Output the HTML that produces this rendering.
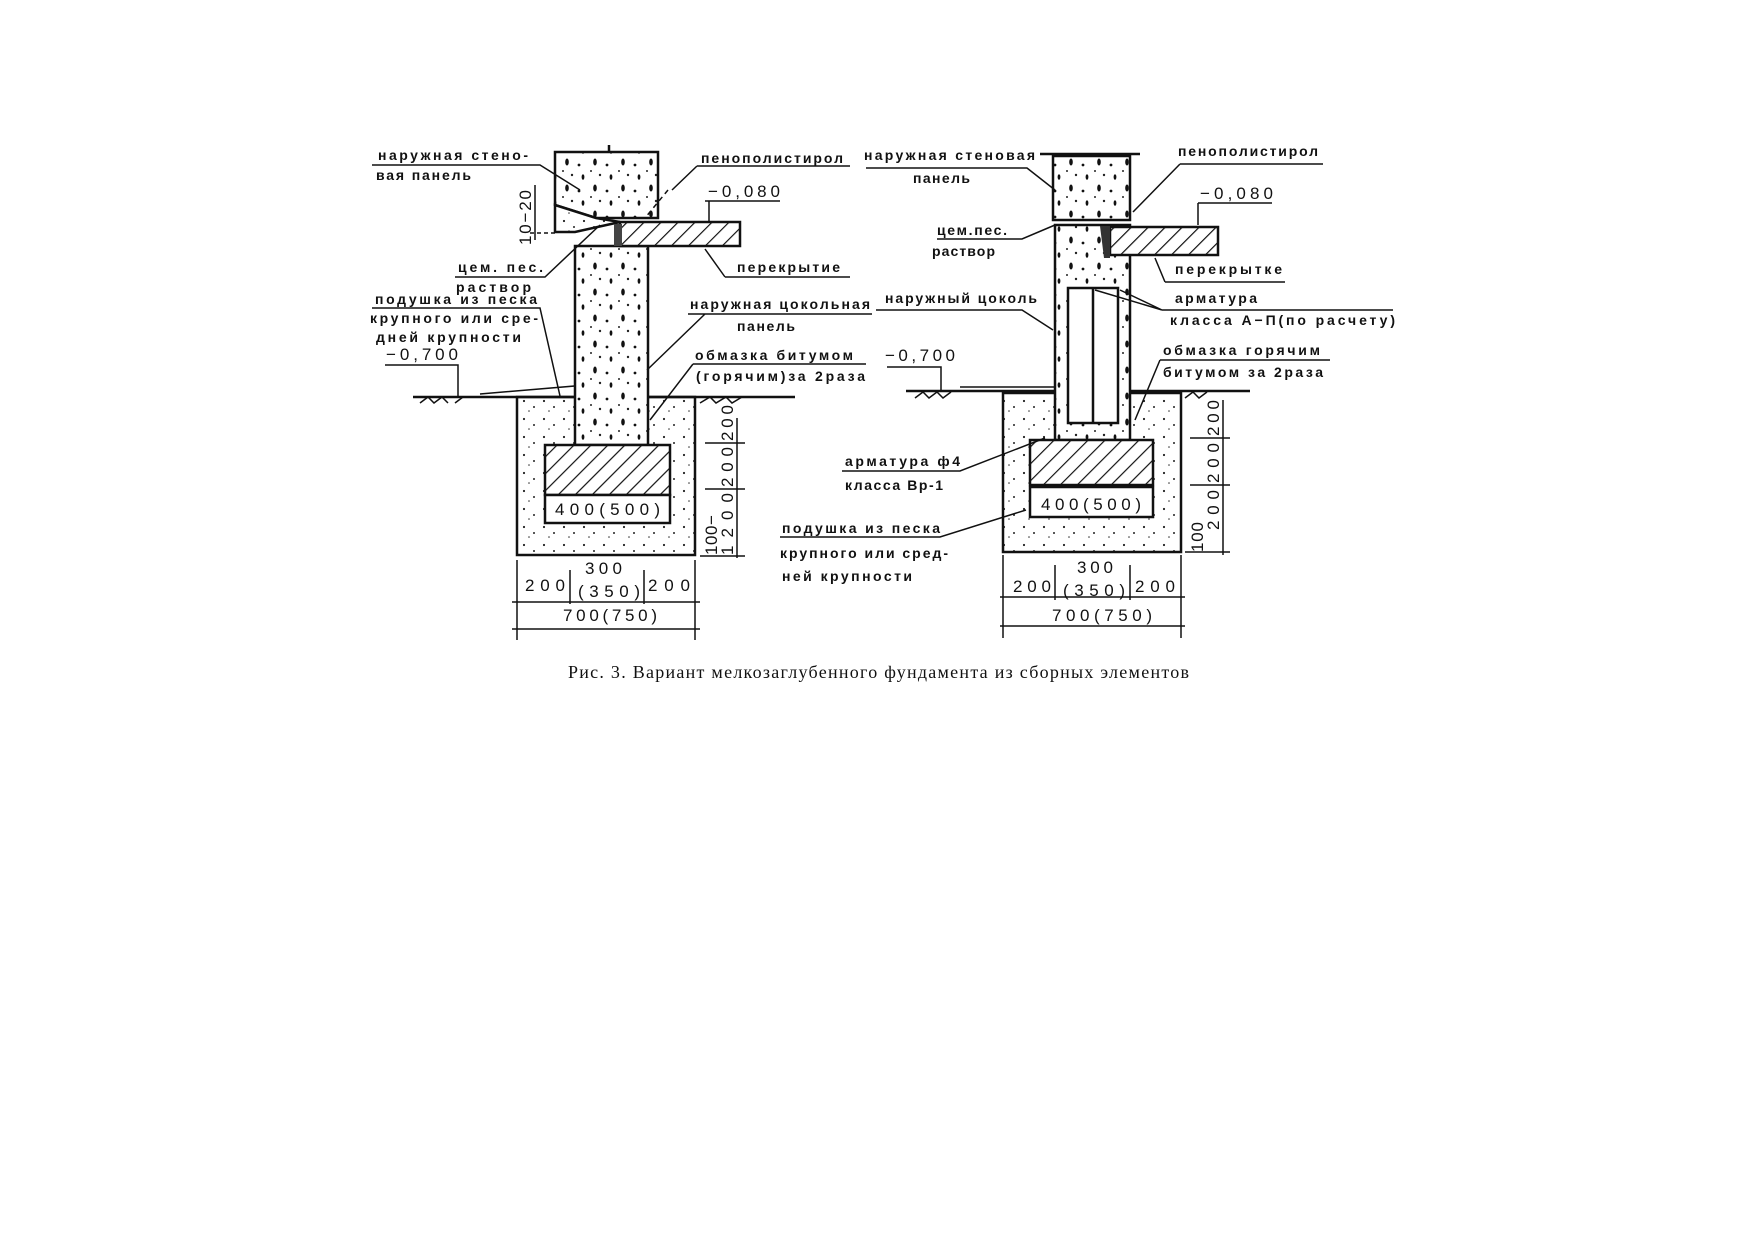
<!DOCTYPE html>
<html><head><meta charset="utf-8"><style>
html,body{margin:0;padding:0;background:#fff}
svg{display:block}
.l{font-family:"Liberation Sans",sans-serif;font-size:14px;font-weight:bold;fill:#111}
.d{font-family:"Liberation Sans",sans-serif;font-size:17px;fill:#111}
</style></head><body>
<svg width="1755" height="1240" viewBox="0 0 1755 1240" xmlns="http://www.w3.org/2000/svg">
<defs>
<pattern id="h" width="12" height="12" patternUnits="userSpaceOnUse" patternTransform="rotate(45)">
<rect width="12" height="12" fill="#fff"/><line x1="0" y1="0" x2="0" y2="12" stroke="#111" stroke-width="2.4"/></pattern>
<pattern id="dots" width="20" height="18" patternUnits="userSpaceOnUse">
<rect width="20" height="18" fill="#fff"/><circle cx="4" cy="5" r="1.1" fill="#222"/><circle cx="14" cy="11" r="1" fill="#222"/><circle cx="9" cy="15" r="0.8" fill="#333"/></pattern>
<pattern id="conc" width="28" height="26" patternUnits="userSpaceOnUse">
<rect width="28" height="26" fill="#fff"/><ellipse cx="7" cy="6" rx="1.8" ry="3.5" fill="#111"/><circle cx="19" cy="9" r="1.4" fill="#111"/><circle cx="12" cy="19" r="1.2" fill="#222"/><ellipse cx="23" cy="21" rx="1.4" ry="2.8" fill="#111"/><circle cx="3" cy="15" r="1" fill="#222"/></pattern>
</defs>
<g stroke="#111" stroke-width="2.5" fill="none">
<!-- LEFT -->
<rect x="517" y="397" width="178" height="158" fill="url(#dots)"/>
<line x1="413" y1="397" x2="795" y2="397"/>
<path d="M420 403 l8 -6 l6 6 l8 -6 l6 6 M455 403 l8 -6 M700 403 l10 -6 l6 6 l10 -6 l6 6 l10-6" stroke-width="1.5"/>
<path d="M480 394 L575 386 L575 394" stroke-width="1.5"/>
<rect x="575" y="246" width="73" height="199" fill="url(#conc)"/>
<path d="M555 152 H658 V218 H596 L555 205 Z" fill="url(#conc)"/>
<path d="M555 205 L596 218 L620 222 L575 232 L555 232 Z" fill="url(#dots)"/>
<rect x="620" y="222" width="120" height="24" fill="url(#h)"/>
<rect x="614" y="224" width="8" height="22" fill="#444" stroke="none"/>
<rect x="545" y="445" width="125" height="50" fill="url(#h)"/>
<rect x="545" y="495" width="125" height="28" fill="#fff"/>
<line x1="609" y1="145" x2="609" y2="152"/>
<line x1="668" y1="190" x2="645" y2="218" stroke-dasharray="5 4" stroke-width="1.5"/>
<line x1="517" y1="560" x2="517" y2="640" stroke-width="1.5"/><line x1="695" y1="560" x2="695" y2="640" stroke-width="1.5"/>
<line x1="570" y1="570" x2="570" y2="604" stroke-width="1.5"/><line x1="644" y1="570" x2="644" y2="604" stroke-width="1.5"/>
<line x1="512" y1="602" x2="700" y2="602" stroke-width="1.5"/><line x1="512" y1="629" x2="700" y2="629" stroke-width="1.5"/>
<line x1="737" y1="418" x2="737" y2="558" stroke-width="1.5"/>
<line x1="705" y1="443" x2="745" y2="443" stroke-width="1.5"/><line x1="705" y1="489" x2="745" y2="489" stroke-width="1.5"/><line x1="700" y1="556" x2="745" y2="556" stroke-width="1.5"/>
<line x1="535" y1="185" x2="535" y2="240" stroke-width="1.5"/>
<line x1="530" y1="233" x2="555" y2="233" stroke-width="1.5" stroke-dasharray="4 3"/>
<path d="M372 165 H540 L580 190" stroke-width="1.5"/>
<path d="M697 166 H850 M697 166 L672 190" stroke-width="1.5"/>
<path d="M705 201 H780 M709 201 V222" stroke-width="1.5"/>
<path d="M455 277 H545 L600 225" stroke-width="1.5"/>
<path d="M372 308 H540 L560 396" stroke-width="1.5"/>
<path d="M385 365 H458 V396" stroke-width="1.5"/>
<path d="M725 277 H850 M725 277 L705 249" stroke-width="1.5"/>
<path d="M688 314 H872 M705 314 L647 370" stroke-width="1.5"/>
<path d="M693 364 H866 M693 364 L650 420" stroke-width="1.5"/>

<!-- RIGHT -->
<rect x="1003" y="393" width="178" height="159" fill="url(#dots)"/>
<line x1="906" y1="391" x2="1250" y2="391"/>
<path d="M915 398 l8 -6 l6 6 l8-6 l6 6 l8-6 M1185 398 l8-6 l6 6 l8-6" stroke-width="1.5"/>
<path d="M960 387 H1055" stroke-width="1.5"/>
<rect x="1055" y="225" width="75" height="215" fill="url(#conc)"/>
<rect x="1053" y="156" width="77" height="64" fill="url(#conc)"/>
<line x1="1040" y1="154" x2="1140" y2="154"/>
<rect x="1068" y="288" width="50" height="135" fill="#fff"/>
<line x1="1093" y1="288" x2="1093" y2="423"/>
<rect x="1110" y="227" width="108" height="28" fill="url(#h)"/>
<path d="M1100 226 L1110 226 L1110 258 L1104 258 Z" fill="#333" stroke="none"/>
<rect x="1030" y="440" width="123" height="45" fill="url(#h)"/>
<rect x="1030" y="487" width="123" height="30" fill="#fff"/>
<line x1="1003" y1="555" x2="1003" y2="638" stroke-width="1.5"/><line x1="1181" y1="555" x2="1181" y2="638" stroke-width="1.5"/>
<line x1="1055" y1="565" x2="1055" y2="600" stroke-width="1.5"/><line x1="1130" y1="565" x2="1130" y2="600" stroke-width="1.5"/>
<line x1="1000" y1="597" x2="1185" y2="597" stroke-width="1.5"/><line x1="1000" y1="626" x2="1185" y2="626" stroke-width="1.5"/>
<line x1="1181" y1="393" x2="1181" y2="552" stroke-width="1.5"/>
<line x1="1223" y1="400" x2="1223" y2="555" stroke-width="1.5"/>
<line x1="1190" y1="438" x2="1230" y2="438" stroke-width="1.5"/><line x1="1190" y1="485" x2="1230" y2="485" stroke-width="1.5"/><line x1="1185" y1="552" x2="1230" y2="552" stroke-width="1.5"/>
<path d="M866 168 H1027 L1055 190" stroke-width="1.5"/>
<path d="M1180 164 H1323 M1180 164 L1133 212" stroke-width="1.5"/>
<path d="M1198 203 H1272 M1198 203 V225" stroke-width="1.5"/>
<path d="M937 239 H1022 L1055 225" stroke-width="1.5"/>
<path d="M1165 282 H1285 M1165 282 L1155 258" stroke-width="1.5"/>
<path d="M1162 310 H1393 M1162 310 L1095 290 M1162 310 L1120 290" stroke-width="1.5"/>
<path d="M876 310 H1022 L1053 330" stroke-width="1.5"/>
<path d="M1160 360 H1330 M1160 360 L1135 420" stroke-width="1.5"/>
<path d="M887 367 H941 V390" stroke-width="1.5"/>
<path d="M842 471 H960 L1045 438" stroke-width="1.5"/>
<path d="M780 537 H940 L1026 510" stroke-width="1.5"/>
</g>
<text class="l" x="378" y="160" textLength="150">наружная стено-</text>
<text class="l" x="376" y="180" textLength="95">вая панель</text>
<text class="l" x="701" y="163" textLength="142">пенополистирол</text>
<text class="d" x="708" y="197" textLength="72">−0,080</text>
<text class="d" transform="translate(531,245) rotate(-90)" textLength="55">10−20</text>
<text class="l" x="458" y="272" textLength="85">цем. пес.</text>
<text class="l" x="456" y="292" textLength="75">раствор</text>
<text class="l" x="375" y="304" textLength="162">подушка из песка</text>
<text class="l" x="370" y="323" textLength="168">крупного или сре-</text>
<text class="l" x="376" y="342" textLength="145">дней крупности</text>
<text class="d" x="386" y="360" textLength="72">−0,700</text>
<text class="l" x="737" y="272" textLength="103">перекрытие</text>
<text class="l" x="690" y="309" textLength="180">наружная цокольная</text>
<text class="l" x="737" y="331" textLength="58">панель</text>
<text class="l" x="695" y="360" textLength="158">обмазка битумом</text>
<text class="l" x="696" y="381" textLength="169">(горячим)за 2раза</text>
<text class="d" x="555" y="515" textLength="105">400(500)</text>
<text class="d" x="585" y="574" textLength="37">300</text>
<text class="d" x="525" y="591" textLength="40">200</text>
<text class="d" x="578" y="597" textLength="62">(350)</text>
<text class="d" x="648" y="591" textLength="42">200</text>
<text class="d" x="563" y="621" textLength="94">700(750)</text>
<text class="d" transform="translate(733,441) rotate(-90)" textLength="36">200</text>
<text class="d" transform="translate(733,487) rotate(-90)" textLength="40">200</text>
<text class="d" transform="translate(717,555) rotate(-90)" textLength="40">100−</text>
<text class="d" transform="translate(733,555) rotate(-90)" textLength="62">1200</text>
<text class="l" x="864" y="160" textLength="171">наружная стеновая</text>
<text class="l" x="913" y="183" textLength="57">панель</text>
<text class="l" x="1178" y="156" textLength="140">пенополистирол</text>
<text class="d" x="1200" y="199" textLength="73">−0,080</text>
<text class="l" x="937" y="235" textLength="70">цем.пес.</text>
<text class="l" x="932" y="256" textLength="63">раствор</text>
<text class="l" x="1175" y="274" textLength="107">перекрытке</text>
<text class="l" x="1175" y="303" textLength="82">арматура</text>
<text class="l" x="1170" y="325" textLength="225">класса А−П(по расчету)</text>
<text class="l" x="885" y="303" textLength="152">наружный цоколь</text>
<text class="l" x="1163" y="355" textLength="157">обмазка горячим</text>
<text class="l" x="1163" y="377" textLength="160">битумом за 2раза</text>
<text class="d" x="885" y="361" textLength="70">−0,700</text>
<text class="l" x="845" y="466" textLength="115">арматура ф4</text>
<text class="l" x="845" y="490" textLength="98">класса Вр-1</text>
<text class="l" x="782" y="533" textLength="158">подушка из песка</text>
<text class="l" x="780" y="558" textLength="168">крупного или сред-</text>
<text class="l" x="782" y="581" textLength="130">ней крупности</text>
<text class="d" x="1041" y="510" textLength="100">400(500)</text>
<text class="d" x="1077" y="573" textLength="36">300</text>
<text class="d" x="1013" y="592" textLength="38">200</text>
<text class="d" x="1063" y="596" textLength="62">(350)</text>
<text class="d" x="1135" y="592" textLength="40">200</text>
<text class="d" x="1052" y="621" textLength="100">700(750)</text>
<text class="d" transform="translate(1219,436) rotate(-90)" textLength="36">200</text>
<text class="d" transform="translate(1219,483) rotate(-90)" textLength="40">200</text>
<text class="d" transform="translate(1219,530) rotate(-90)" textLength="40">200</text>
<text class="d" transform="translate(1203,552) rotate(-90)" textLength="30">100</text>
<text x="568" y="678" font-family="Liberation Serif, serif" font-size="18" fill="#111" textLength="621">Рис. 3. Вариант мелкозаглубенного фундамента из сборных элементов</text>
</svg>
</body></html>
